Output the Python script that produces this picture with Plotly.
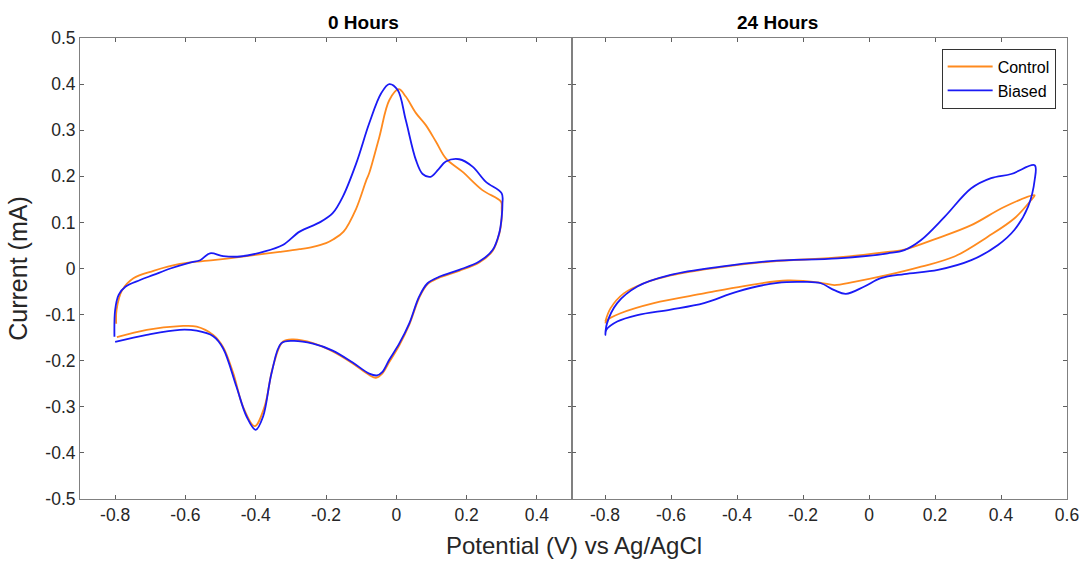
import plotly.graph_objects as go
from plotly.subplots import make_subplots

# ---------------- data ----------------
panel_titles = ["0 Hours", "24 Hours"]
series_names = ["Control", "Biased"]

# 0 Hours - Control
h0_control_x = [-0.797, -0.796, -0.78, -0.748, -0.691, -0.616, -0.521, -0.426, -0.332, -0.275,
                -0.237, -0.2, -0.18, -0.15, -0.114, -0.086, -0.077, -0.048, -0.02, 0.007,
                0.027, 0.056, 0.084, 0.113, 0.141, 0.188, 0.245, 0.298,
                0.300, 0.300, 0.293, 0.274, 0.236, 0.179, 0.122, 0.089, 0.065, 0.037,
                0.009, -0.02, -0.04, -0.058, -0.077, -0.124, -0.181, -0.237, -0.294, -0.323,
                -0.351, -0.375, -0.403, -0.436, -0.464, -0.493, -0.521, -0.568, -0.616, -0.71, -0.795]
h0_control_y = [-0.12, -0.09, -0.047, -0.021, -0.005, 0.01, 0.018, 0.027, 0.036, 0.042,
                0.047, 0.055, 0.063, 0.08, 0.13, 0.19, 0.207, 0.286, 0.365, 0.389,
                0.373, 0.337, 0.311, 0.275, 0.239, 0.21, 0.17, 0.145,
                0.13, 0.11, 0.075, 0.038, 0.013, -0.005, -0.02, -0.034, -0.064, -0.122,
                -0.166, -0.203, -0.228, -0.237, -0.231, -0.206, -0.18, -0.162, -0.154, -0.159,
                -0.213, -0.30, -0.342, -0.30, -0.227, -0.17, -0.144, -0.126, -0.125, -0.133, -0.149]

# 0 Hours - Biased
h0_biased_x = [-0.802, -0.80, -0.79, -0.77, -0.729, -0.691, -0.643, -0.587, -0.558, -0.53,
               -0.493, -0.445, -0.379, -0.323, -0.275, -0.218, -0.181, -0.152, -0.114, -0.077,
               -0.043, -0.02, 0.004, 0.027, 0.056, 0.075, 0.098, 0.12, 0.141, 0.179,
               0.217, 0.255, 0.300,
               0.302, 0.300, 0.293, 0.274, 0.236, 0.179, 0.122, 0.089, 0.065, 0.037,
               0.009, -0.02, -0.04, -0.055, -0.077, -0.124, -0.181, -0.237, -0.294, -0.327,
               -0.355, -0.379, -0.40, -0.426, -0.455, -0.493, -0.521, -0.568, -0.616, -0.71, -0.80]
h0_biased_y = [-0.148, -0.09, -0.057, -0.039, -0.025, -0.014, 0.0, 0.013, 0.018, 0.033,
               0.027, 0.026, 0.036, 0.051, 0.08, 0.10, 0.12, 0.156, 0.228, 0.315,
               0.38, 0.40, 0.387, 0.322, 0.235, 0.205, 0.199, 0.215, 0.232, 0.237,
               0.221, 0.188, 0.163,
               0.14, 0.112, 0.077, 0.04, 0.015, -0.003, -0.018, -0.032, -0.061, -0.119,
               -0.162, -0.198, -0.225, -0.232, -0.228, -0.204, -0.178, -0.163, -0.157, -0.162,
               -0.227, -0.321, -0.35, -0.321, -0.256, -0.173, -0.147, -0.135, -0.133, -0.144, -0.159]

# 24 Hours - Control
h24_control_x = [-0.799, -0.783, -0.743, -0.682, -0.601, -0.449, -0.298, -0.095, 0.057, 0.107,
                 0.209, 0.31, 0.411, 0.502,
                 0.492, 0.441, 0.36, 0.259, 0.158, 0.057, -0.045, -0.105, -0.146, -0.247,
                 -0.379, -0.50, -0.652, -0.753, -0.794, -0.799]
h24_control_y = [-0.115, -0.086, -0.054, -0.032, -0.015, 0.003, 0.015, 0.024, 0.036, 0.041,
                 0.066, 0.094, 0.134, 0.159,
                 0.149, 0.109, 0.069, 0.026, 0.004, -0.014, -0.029, -0.036, -0.031, -0.026,
                 -0.038, -0.054, -0.075, -0.097, -0.112, -0.119]

# 24 Hours - Biased
h24_biased_x = [-0.799, -0.794, -0.763, -0.702, -0.601, -0.449, -0.298, -0.095, 0.057, 0.107,
                0.158, 0.229, 0.31, 0.37, 0.431, 0.502,
                0.502, 0.482, 0.441, 0.391, 0.31, 0.209, 0.107, 0.036, -0.014, -0.07,
                -0.105, -0.146, -0.196, -0.277, -0.399, -0.50, -0.601, -0.702, -0.763, -0.796, -0.799]
h24_biased_y = [-0.144, -0.119, -0.075, -0.039, -0.014, 0.004, 0.016, 0.022, 0.033, 0.04,
                0.062, 0.112, 0.174, 0.196, 0.205, 0.224,
                0.192, 0.134, 0.084, 0.051, 0.018, -0.003, -0.012, -0.021, -0.039, -0.055,
                -0.047, -0.032, -0.029, -0.031, -0.05, -0.075, -0.089, -0.101, -0.115, -0.133, -0.144]

x_ticks_left = [-0.8, -0.6, -0.4, -0.2, 0, 0.2, 0.4]
x_ticks_right = [-0.8, -0.6, -0.4, -0.2, 0, 0.2, 0.4, 0.6]
y_ticks = [-0.5, -0.4, -0.3, -0.2, -0.1, 0, 0.1, 0.2, 0.3, 0.4, 0.5]

colors = {"Control": "#FF8A1E", "Biased": "#1A1AF5"}

# ---------------- figure ----------------
fig = make_subplots(rows=1, cols=2, shared_yaxes=True, horizontal_spacing=0)

panels = [
    (1, {"Control": (h0_control_x, h0_control_y), "Biased": (h0_biased_x, h0_biased_y)}),
    (2, {"Control": (h24_control_x, h24_control_y), "Biased": (h24_biased_x, h24_biased_y)}),
]
for col, data in panels:
    for name in series_names:
        xs, ys = data[name]
        fig.add_trace(go.Scatter(
            x=xs, y=ys, mode="lines", name=name,
            line=dict(color=colors[name], width=1.8, shape="spline", smoothing=1.0),
            showlegend=(col == 2), legendgroup=name,
        ), row=1, col=col)

font_main = "Liberation Sans, Arial, Helvetica, sans-serif"
axis_common = dict(
    showline=True, linecolor="#808080", linewidth=1, mirror="ticks",
    ticks="inside", ticklen=4, tickcolor="#606060", tickwidth=1,
    showgrid=False, zeroline=False, automargin=False,
    tickfont=dict(size=17.5, color="#262626", family=font_main),
)

split = (572 - 80) / 987
fig.update_xaxes(axis_common)
fig.update_yaxes(axis_common)
fig.update_xaxes(range=[-0.9, 0.5], tickvals=x_ticks_left,
                 ticktext=[f"{v:g}" for v in x_ticks_left], domain=[0, split], row=1, col=1)
fig.update_xaxes(range=[-0.9, 0.6], tickvals=x_ticks_right,
                 ticktext=[f"{v:g}" for v in x_ticks_right], domain=[split, 1], row=1, col=2)
fig.update_yaxes(range=[-0.5, 0.5], tickvals=y_ticks,
                 ticktext=[f"{v:g}" for v in y_ticks], row=1, col=1,
                 title=dict(text="Current (mA)", font=dict(size=25, color="#262626", family=font_main),
                            standoff=10))
fig.update_yaxes(range=[-0.5, 0.5], tickvals=y_ticks, showticklabels=False, row=1, col=2)

annotations = [
    dict(text=f"<b>{panel_titles[0]}</b>", x=split / 2, y=1.0, xref="paper", yref="paper",
         yanchor="bottom", yshift=3, showarrow=False,
         font=dict(size=19, color="#000000", family=font_main)),
    dict(text=f"<b>{panel_titles[1]}</b>", x=(split + 1) / 2, y=1.0, xref="paper", yref="paper",
         yanchor="bottom", yshift=3, showarrow=False,
         font=dict(size=19, color="#000000", family=font_main)),
    dict(text="Potential (V) vs Ag/AgCl", x=0.5, y=0, xref="paper", yref="paper",
         yanchor="middle", yshift=-46, showarrow=False,
         font=dict(size=24, color="#262626", family=font_main)),
]

fig.update_layout(
    width=1081, height=561,
    margin=dict(l=80, r=14, t=38, b=62, autoexpand=False),
    paper_bgcolor="white", plot_bgcolor="white",
    annotations=annotations,
    legend=dict(x=0.9885, y=0.977, xanchor="right", yanchor="top",
                bordercolor="#333333", borderwidth=1, bgcolor="white",
                font=dict(size=16, color="#000000", family=font_main),
                tracegroupgap=0, itemwidth=45),
    font=dict(family=font_main),
)

fig.write_html("out.html")
